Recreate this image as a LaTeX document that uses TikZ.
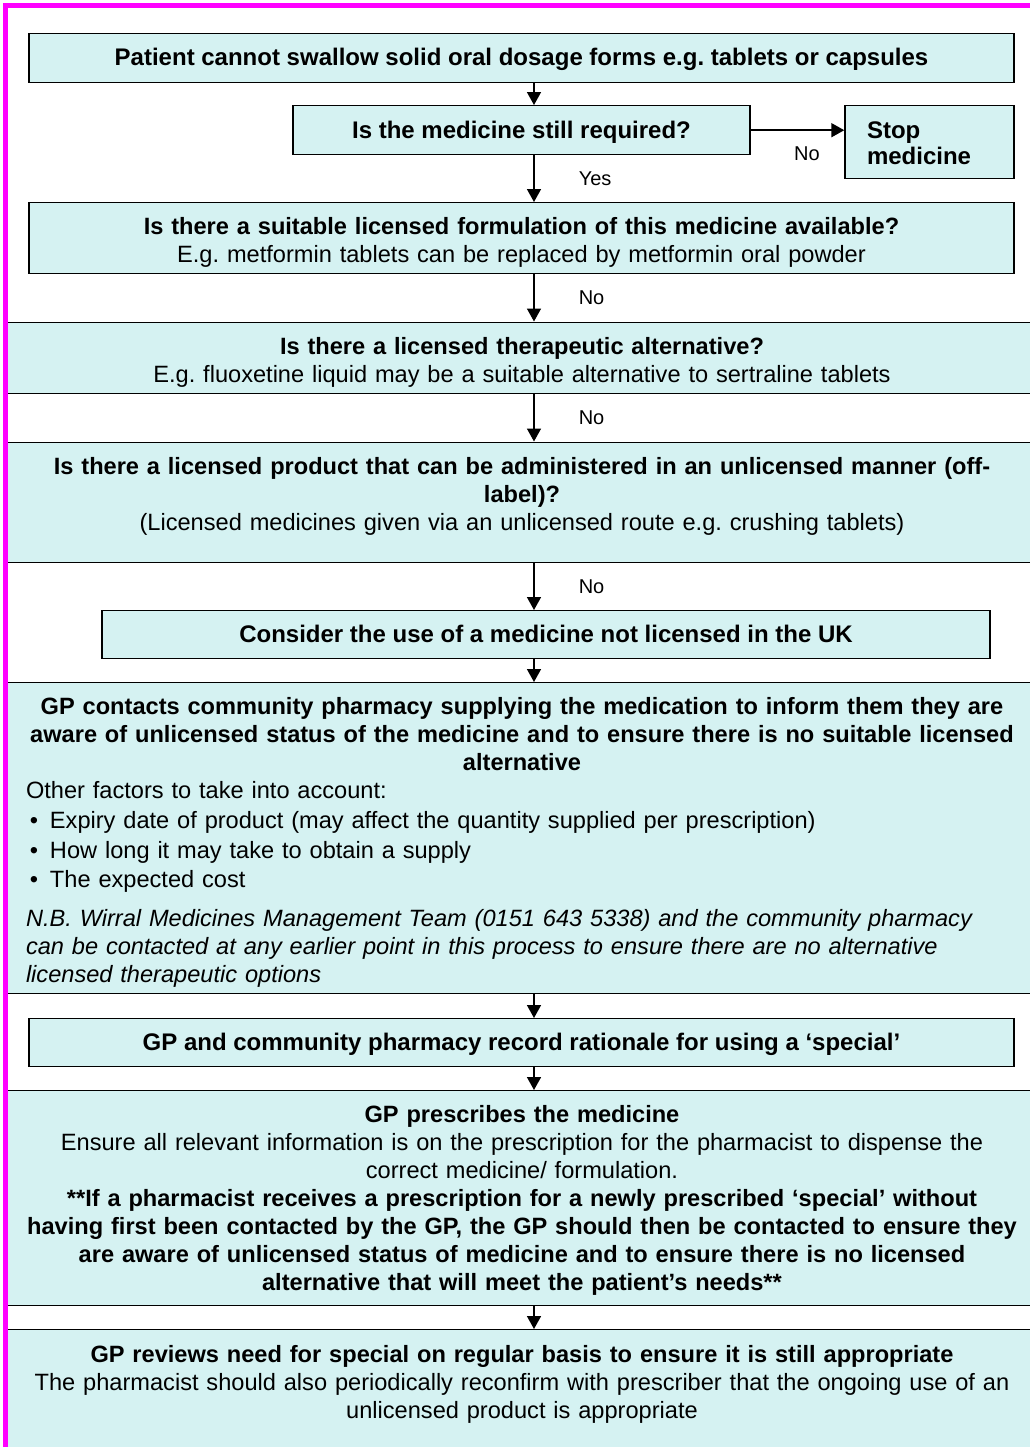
\documentclass[tikz,border=0pt]{standalone}
\usepackage{fontspec}
\setmainfont{Liberation Sans}
\usepackage{tikz}
\usetikzlibrary{positioning,arrows.meta}
\definecolor{boxfill}{RGB}{213,242,242}
\definecolor{framepink}{RGB}{255,0,255}
\setlength{\parindent}{0pt}
\frenchspacing
\newcommand{\dotitem}{\makebox[12pt][l]{\kern2pt\textbullet}}

\begin{document}
\begin{tikzpicture}[x=0.5pt,y=-0.5pt,
        every node/.style={font=\fontsize{11.8}{14}\selectfont},
        bold/.style={font=\fontsize{12}{14}\selectfont\bfseries},
        box/.style={draw=black, line width=0.7pt, fill=boxfill, inner sep=0pt, anchor=north},
        oneline/.style={box, bold, text height=16pt, text depth=8pt},
        narrow/.style={box, text width=492.5pt, align=center},
        wide/.style={box, text width=516pt, align=center},
        flow/.style={line width=0.8pt, -{Triangle[length=6.5pt,width=7pt]}},
        answer/.style={font=\fontsize{10}{12}\selectfont, inner sep=0pt}]
        \useasboundingbox (0,0) rectangle (1029,1447);

        \coordinate (axis) at (534,0);

        \node[oneline, minimum width=492.5pt, text depth=8.5pt] (start) at (521.5,33)
            {Patient cannot swallow solid oral dosage forms e.g. tablets or capsules};
        \node[oneline, minimum width=228.5pt, text height=16.5pt] (req) at (521.5,105)
            {Is the medicine still required?};
        \node[box, bold, text width=62.5pt, inner xsep=11pt, align=left,
            text height=16.5pt, text depth=20pt] (stop) at (929.5,105) {Stop\\[-1pt]medicine};
        \node[narrow, text height=16pt, text depth=19.5pt] (form) at (521.5,202)
            {\textbf{Is there a suitable licensed formulation of this medicine available?}\\
            E.g. metformin tablets can be replaced by metformin oral powder};
        \node[wide, text height=16.25pt, text depth=19.5pt] (alt) at (522,321.5)
            {\textbf{Is there a licensed therapeutic alternative?}\\
            E.g. fluoxetine liquid may be a suitable alternative to sertraline tablets};
        \node[wide, text height=16.25pt, text depth=43.75pt] (offlabel) at (522,441.5)
            {{\bfseries Is there a licensed product that can be administered in an unlicensed manner (off-\\
            label)?}\\
            (Licensed medicines given via an unlicensed route e.g. crushing tablets)};
        \node[oneline, minimum width=444pt] (unlic) at (546,610)
            {Consider the use of a medicine not licensed in the UK};
        \node[box, text width=516pt, text height=16pt, text depth=139.5pt] (contact) at (522,682)
            {{\centering\bfseries GP contacts community pharmacy supplying the medication to inform them they are\\
            aware of unlicensed status of the medicine and to ensure there is no suitable licensed\\
            alternative\par}
            \raggedright\leftskip=10pt Other factors to take into account:\\[1pt]
            \dotitem Expiry date of product (may affect the quantity supplied per prescription)\\[1pt]
            \dotitem How long it may take to obtain a supply\\[0.5pt]
            \dotitem The expected cost\\[5.5pt]
            {\itshape N.B. Wirral Medicines Management Team (0151 643 5338) and the community pharmacy\\
            can be contacted at any earlier point in this process to ensure there are no alternative\\
            licensed therapeutic options}\par};
        \node[oneline, minimum width=492.5pt] (record) at (521.5,1018)
            {GP and community pharmacy record rationale for using a ‘special’};
        \node[wide, text height=16pt, text depth=91.5pt] (presc) at (522,1090)
            {\textbf{GP prescribes the medicine}\\
            Ensure all relevant information is on the prescription for the pharmacist to dispense the\\
            correct medicine/ formulation.\\
            {\bfseries **If a pharmacist receives a prescription for a newly prescribed ‘special’ without\\
            having first been contacted by the GP, the GP should then be contacted to ensure they\\
            are aware of unlicensed status of medicine and to ensure there is no licensed\\
            alternative that will meet the patient’s needs**}};
        \node[wide, text height=16.5pt, text depth=60pt] (review) at (522,1329)
            {\textbf{GP reviews need for special on regular basis to ensure it is still appropriate}\\
            The pharmacist should also periodically reconfirm with prescriber that the ongoing use of an\\
            unlicensed product is appropriate};

        \draw[flow] (start.south -| axis) -- (req.north -| axis);
        \draw[flow] (req.east) -- node[answer, below=8pt, xshift=4.75pt] {No} (req.east -| stop.west);
        \draw[flow] (req.south -| axis) -- node[answer, right=22pt] {Yes} (form.north -| axis);
        \draw[flow] (form.south -| axis) -- node[answer, right=22pt] {No} (alt.north -| axis);
        \draw[flow] (alt.south -| axis) -- node[answer, right=22pt] {No} (offlabel.north -| axis);
        \draw[flow] (offlabel.south -| axis) -- node[answer, right=22pt] {No} (unlic.north -| axis);
        \draw[flow] (unlic.south -| axis) -- (contact.north -| axis);
        \draw[flow] (contact.south -| axis) -- (record.north -| axis);
        \draw[flow] (record.south -| axis) -- (presc.north -| axis);
        \draw[flow] (presc.south -| axis) -- (review.north -| axis);

        \draw[framepink, line width=2.25pt] (3,5.5) -- (1040,5.5);
        \draw[framepink, line width=2.25pt] (5.3,3.5) -- (5.3,1460);
    \end{tikzpicture}
\end{document}
